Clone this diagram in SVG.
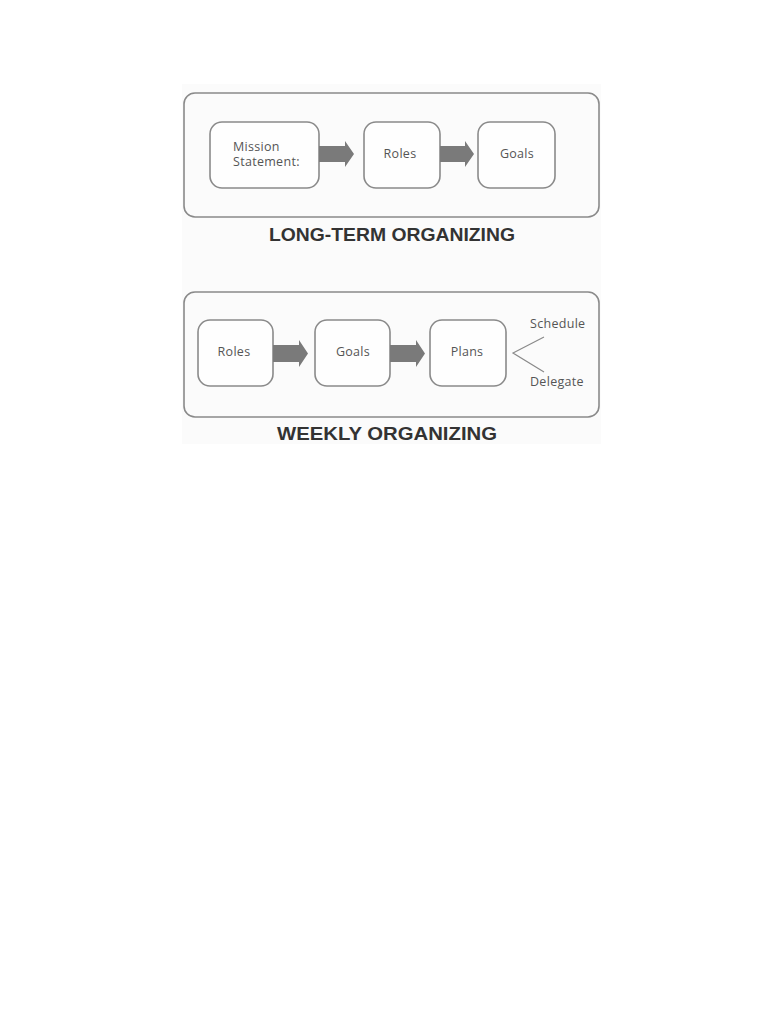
<svg xmlns="http://www.w3.org/2000/svg" width="782" height="1012" viewBox="0 0 782 1012">
<defs>
<style>
.frame{fill:none;stroke:#8a8a8a;stroke-width:1.6}
.box{fill:#fefefe;stroke:#8a8a8a;stroke-width:1.6}
.arrow{fill:#7a7a7a}
.lbl{font-family:"Open Sans","Liberation Sans",sans-serif;font-size:12.5px;fill:#555;letter-spacing:0.3px}
.title{font-family:"Liberation Sans",sans-serif;font-size:18px;font-weight:bold;fill:#333;text-anchor:middle}
.branch{fill:none;stroke:#8a8a8a;stroke-width:1.2}
</style>
</defs>
<rect width="782" height="1012" fill="#ffffff"/>
<rect x="182" y="84" width="419" height="360" fill="#fbfbfb"/>

<g id="frame-longterm">
<rect class="frame" x="184" y="93" width="415" height="124" rx="11"/>
<text class="title" x="392" y="241" textLength="246" lengthAdjust="spacingAndGlyphs">LONG-TERM ORGANIZING</text>
</g>
<g id="frame-weekly">
<rect class="frame" x="184" y="292" width="415" height="125" rx="11"/>
<text class="title" x="387" y="440" textLength="220" lengthAdjust="spacingAndGlyphs">WEEKLY ORGANIZING</text>
</g>

<g id="lt-mission">
<rect class="box" x="210" y="122" width="109" height="66" rx="12"/>
<text class="lbl" x="233" y="151">Mission</text>
<text class="lbl" x="233" y="166">Statement:</text>
</g>
<g id="lt-roles">
<rect class="box" x="364" y="122" width="76" height="66" rx="12"/>
<text class="lbl" x="400" y="158" text-anchor="middle">Roles</text>
</g>
<g id="lt-goals">
<rect class="box" x="478" y="122" width="77" height="66" rx="12"/>
<text class="lbl" x="517" y="158" text-anchor="middle">Goals</text>
</g>

<g id="wk-roles">
<rect class="box" x="198" y="320" width="75" height="66" rx="12"/>
<text class="lbl" x="234" y="356" text-anchor="middle">Roles</text>
</g>
<g id="wk-goals">
<rect class="box" x="315" y="320" width="75" height="66" rx="12"/>
<text class="lbl" x="353" y="356" text-anchor="middle">Goals</text>
</g>
<g id="wk-plans">
<rect class="box" x="430" y="320" width="76" height="66" rx="12"/>
<text class="lbl" x="467" y="356" text-anchor="middle">Plans</text>
</g>
<g id="wk-schedule">
<text class="lbl" x="530" y="328">Schedule</text>
</g>
<g id="wk-delegate">
<text class="lbl" x="530" y="386">Delegate</text>
</g>

<g id="connectors">
<polygon class="arrow" points="319,146 345,146 345,141 354,154 345,167 345,162 319,162"/>
<polygon class="arrow" points="440,146 465,146 465,141 474,154 465,167 465,162 440,162"/>
<polygon class="arrow" points="273,345 299,345 299,340 308,353.5 299,367 299,362 273,362"/>
<polygon class="arrow" points="390,345 416,345 416,340 425,353.5 416,367 416,362 390,362"/>
<polyline class="branch" points="544,337 513,353 544,372"/>
</g>
</svg>
